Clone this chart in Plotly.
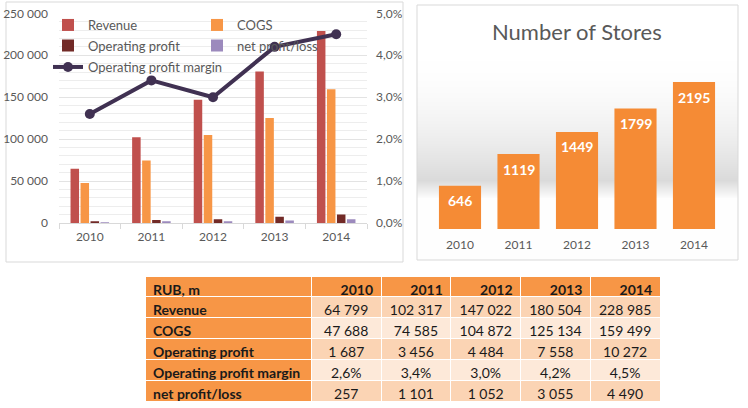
import base64, struct, zlib
import plotly.graph_objects as go

# ---------------- data ----------------
years = ["2010", "2011", "2012", "2013", "2014"]
revenue = [64799, 102317, 147022, 180504, 228985]
cogs = [47688, 74585, 104872, 125134, 159499]
op_profit = [1687, 3456, 4484, 7558, 10272]
op_margin = [2.6, 3.4, 3.0, 4.2, 4.5]
net_profit = [257, 1101, 1052, 3055, 4490]
stores = [646, 1119, 1449, 1799, 2195]

row_labels = ["Revenue", "COGS", "Operating profit", "Operating profit margin", "net profit/loss"]
table_corner = "RUB, m"

W, H = 748, 408
FONT = "Lato"
GREY = "#595959"
NB = "\u00a0"


def px(x):
    return x / W


def py(y):
    return 1 - y / H


def fmt_int(v):
    return f"{v:,}".replace(",", NB)


def fmt_pct(v):
    return f"{v:.1f}%".replace(".", ",")


# gradient background for "Number of Stores" panel
def gradient_png(n):
    vals = []
    for i in range(n):
        y = 5 + i * 255 / n
        if y < 45:
            g = 255
        elif y < 180:
            t = (y - 45) / (180 - 45)
            g = 255 - (255 - 218) * (t ** 2.0)
        elif y < 198:
            t = (y - 180) / 18
            g = 218 + (253 - 218) * t
        else:
            g = 254
        vals.append(int(round(g)))
    raw = b"".join(b"\x00" + bytes([g, g, g]) * 2 for g in vals)

    def chunk(tag, data):
        return struct.pack(">I", len(data)) + tag + data + struct.pack(">I", zlib.crc32(tag + data) & 0xFFFFFFFF)

    png = (b"\x89PNG\r\n\x1a\n" + chunk(b"IHDR", struct.pack(">IIBBBBB", 2, n, 8, 2, 0, 0, 0))
           + chunk(b"IDAT", zlib.compress(raw)) + chunk(b"IEND", b""))
    return "data:image/png;base64," + base64.b64encode(png).decode()


fig = go.Figure()

# ---------------- left chart ----------------
bar_specs = [
    ("Revenue", revenue, "#C0504D", "legend"),
    ("COGS", cogs, "#F79646", "legend"),
    ("Operating profit", op_profit, "#722A27", "legend2"),
    ("net profit/loss", net_profit, "#9C8ABD", "legend2"),
]
for name, vals, col, lg in bar_specs:
    fig.add_trace(go.Bar(x=years, y=vals, name=name, marker=dict(color=col, line=dict(width=0)),
                         xaxis="x", yaxis="y", legend=lg))

fig.add_trace(go.Scatter(x=years, y=op_margin, name="Operating profit margin", mode="lines+markers",
                         line=dict(color="#403152", width=4), marker=dict(size=10, color="#403152"),
                         xaxis="x", yaxis="y2", legend="legend3"))

# ---------------- right chart ----------------
fig.add_trace(go.Bar(x=years, y=stores, name="Stores", marker=dict(color="#F58B35", line=dict(width=0)),
                     width=0.72, xaxis="x2", yaxis="y3", showlegend=False))

# ---------------- table ----------------
table_vals = [revenue, cogs, op_profit, op_margin, net_profit]
columns = [[r.replace(" ", NB) for r in row_labels]]
for j in range(len(years)):
    col = []
    for i, series in enumerate(table_vals):
        v = series[j]
        col.append(fmt_pct(v) if i == 3 else fmt_int(v))
    columns.append(col)

row_fill = ["#FBD4B4" if i % 2 == 0 else "#FDE9D9" for i in range(len(row_labels))]
fill_colors = [["#F79646"] * len(row_labels)] + [row_fill] * len(years)

fig.add_trace(go.Table(
    domain=dict(x=[px(145), px(660)], y=[py(402), py(276)]),
    columnwidth=[167, 70, 70, 70, 70, 70],
    header=dict(values=[table_corner.replace(" ", NB)] + years,
                fill_color="#F79646", line=dict(color="white", width=1),
                align=["left"] + ["right"] * 5, height=20,
                font=dict(family=FONT, size=14, color="#1A1A1A", weight="bold")),
    cells=dict(values=columns, fill_color=fill_colors, line=dict(color="white", width=1),
               align=["left"] + ["center"] * 5, height=21,
               font=dict(family=FONT, size=14, color="#1A1A1A",
                         weight=["bold"] + ["normal"] * 5)),
))

# stores data labels (category index positions on x2)
annotations = []
for idx, v in enumerate(stores):
    annotations.append(dict(x=idx, y=v, xref="x2", yref="y3", text=f"<b>{v}</b>", showarrow=False,
                            xanchor="center", yanchor="middle",
                            yshift=-15, font=dict(family=FONT, size=14, color="white")))
annotations.append(dict(x=px(577), y=py(32), xref="paper", yref="paper", text="Number of Stores",
                        xanchor="center", yanchor="middle",
                        showarrow=False, font=dict(family=FONT, size=22, color=GREY)))

shapes = [
    dict(type="rect", xref="paper", yref="paper", x0=px(6), x1=px(403), y0=py(262), y1=py(2),
         line=dict(color="#D9D9D9", width=1), layer="below"),
    dict(type="rect", xref="paper", yref="paper", x0=px(417), x1=px(738), y0=py(260), y1=py(5),
         line=dict(color="#D9D9D9", width=1), layer="above"),
]

legend_common = dict(orientation="h", xanchor="left", yanchor="top",
                     font=dict(family=FONT, size=13, color=GREY), bgcolor="rgba(0,0,0,0)", itemwidth=30,
                     tracegroupgap=0)

fig.update_layout(
    width=W, height=H,
    margin=dict(l=0, r=0, t=0, b=0, autoexpand=False),
    paper_bgcolor="white", plot_bgcolor="rgba(0,0,0,0)",
    font=dict(family=FONT, size=12, color=GREY),
    separators=", ",
    barmode="group", bargap=0.35, bargroupgap=0.15,
    xaxis=dict(domain=[px(59), px(367)], anchor="y", type="category", range=[-0.5, 4.5],
               categoryorder="array", categoryarray=years, showgrid=False,
               showline=True, linecolor="#D9D9D9", linewidth=1,
               ticks="outside", tickson="boundaries", ticklen=5, tickcolor="#D9D9D9",
               ticklabelstandoff=3, tickfont=dict(size=12, color=GREY), automargin=False),
    yaxis=dict(domain=[py(223), py(13.3)], anchor="x", range=[0, 250000], dtick=50000,
               tickformat=",d", showgrid=True, gridcolor="#E3E3E3", gridwidth=1,
               minor=dict(dtick=10000, showgrid=True, gridcolor="#EDEDED", gridwidth=1),
               zeroline=False, showline=False, ticklabelstandoff=10, automargin=False,
               tickfont=dict(size=12, color=GREY)),
    yaxis2=dict(overlaying="y", side="right", anchor="x", range=[0, 5], dtick=1, tickformat=".1f",
                ticksuffix="%", showgrid=False, zeroline=False, showline=False, ticklabelstandoff=8,
                automargin=False, tickfont=dict(size=12, color=GREY)),
    xaxis2=dict(domain=[px(430.75), px(723.25)], anchor="y3", type="category", range=[-0.5, 4.5],
                categoryorder="array", categoryarray=years, showgrid=False, automargin=False,
                showline=False, ticks="", ticklabelstandoff=7, tickfont=dict(size=12, color=GREY)),
    yaxis3=dict(domain=[py(229), py(61.6)], anchor="x2", range=[0, 2500], showgrid=False,
                showticklabels=False, showline=False, zeroline=False, ticks="", automargin=False),
    legend=dict(x=px(48), y=py(10), entrywidth=104, entrywidthmode="pixels", **legend_common),
    legend2=dict(x=px(48), y=py(30.5), entrywidth=104, entrywidthmode="pixels", **legend_common),
    legend3=dict(x=px(48), y=py(52), **legend_common),
    annotations=annotations,
    shapes=shapes,
    images=[dict(source=gradient_png(255), xref="paper", yref="paper", x=px(417), y=py(5),
                 sizex=px(738) - px(417), sizey=py(5) - py(260), sizing="stretch",
                 xanchor="left", yanchor="top", layer="below")],
)

fig.write_html("out.html")
